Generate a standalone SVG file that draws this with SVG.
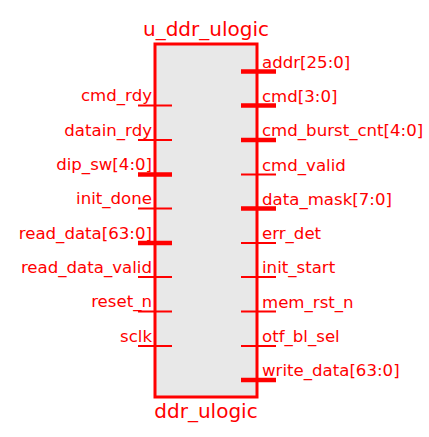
<svg xmlns="http://www.w3.org/2000/svg" width="429" height="437" viewBox="0 0 429 437">
  <style>
    text { font-family: "DejaVu Sans", Verdana, sans-serif; fill: #ff0000; }
    .title { font-size: 20px; text-anchor: middle; }
    .lbl { font-size: 16.6px; }
    .in { text-anchor: end; }
    .out { text-anchor: start; }
    .pin { stroke: #ff0000; stroke-width: 2; fill: none; }
    .bus { stroke: #ff0000; stroke-width: 4.5; fill: none; }
    .body { fill: #e8e8e8; stroke: #ff0000; stroke-width: 3; }
  </style>
  <rect width="429" height="437" fill="#ffffff"/>

  <g id="u_ddr_ulogic">
    <rect class="body" x="155" y="44" width="102" height="353"/>
    <text class="title" x="206" y="36">u_ddr_ulogic</text>
    <text class="title" x="206" y="418">ddr_ulogic</text>
  </g>

  <g id="ports">
    <!-- inputs, left side -->
    <g id="cmd_rdy"><line class="pin" x1="138" y1="105.5" x2="172" y2="105.5"/><text class="lbl in" x="152" y="101">cmd_rdy</text></g>
    <g id="datain_rdy"><line class="pin" x1="138" y1="140" x2="172" y2="140"/><text class="lbl in" x="152" y="135.5">datain_rdy</text></g>
    <g id="dip_sw"><line class="bus" x1="138" y1="174.5" x2="172" y2="174.5"/><text class="lbl in" x="152" y="170">dip_sw[4:0]</text></g>
    <g id="init_done"><line class="pin" x1="138" y1="208.5" x2="172" y2="208.5"/><text class="lbl in" x="152" y="204">init_done</text></g>
    <g id="read_data"><line class="bus" x1="138" y1="243" x2="172" y2="243"/><text class="lbl in" x="152" y="238.5">read_data[63:0]</text></g>
    <g id="read_data_valid"><line class="pin" x1="138" y1="277" x2="172" y2="277"/><text class="lbl in" x="152" y="272.5">read_data_valid</text></g>
    <g id="reset_n"><line class="pin" x1="138" y1="311.5" x2="172" y2="311.5"/><text class="lbl in" x="152" y="307">reset_n</text></g>
    <g id="sclk"><line class="pin" x1="138" y1="346" x2="172" y2="346"/><text class="lbl in" x="152" y="341.5">sclk</text></g>

    <!-- outputs, right side -->
    <g id="addr"><line class="bus" x1="241" y1="71.5" x2="276" y2="71.5"/><text class="lbl out" x="262" y="67.5">addr[25:0]</text></g>
    <g id="cmd"><line class="bus" x1="241" y1="105.5" x2="276" y2="105.5"/><text class="lbl out" x="262" y="101.5">cmd[3:0]</text></g>
    <g id="cmd_burst_cnt"><line class="bus" x1="241" y1="140" x2="276" y2="140"/><text class="lbl out" x="262" y="136">cmd_burst_cnt[4:0]</text></g>
    <g id="cmd_valid"><line class="pin" x1="241" y1="174.5" x2="276" y2="174.5"/><text class="lbl out" x="262" y="170.5">cmd_valid</text></g>
    <g id="data_mask"><line class="bus" x1="241" y1="208.5" x2="276" y2="208.5"/><text class="lbl out" x="262" y="204.5">data_mask[7:0]</text></g>
    <g id="err_det"><line class="pin" x1="241" y1="243" x2="276" y2="243"/><text class="lbl out" x="262" y="239">err_det</text></g>
    <g id="init_start"><line class="pin" x1="241" y1="277" x2="276" y2="277"/><text class="lbl out" x="262" y="273">init_start</text></g>
    <g id="mem_rst_n"><line class="pin" x1="241" y1="311.5" x2="276" y2="311.5"/><text class="lbl out" x="262" y="307.5">mem_rst_n</text></g>
    <g id="otf_bl_sel"><line class="pin" x1="241" y1="346" x2="276" y2="346"/><text class="lbl out" x="262" y="342">otf_bl_sel</text></g>
    <g id="write_data"><line class="bus" x1="241" y1="380" x2="276" y2="380"/><text class="lbl out" x="262" y="376">write_data[63:0]</text></g>
  </g>
</svg>
